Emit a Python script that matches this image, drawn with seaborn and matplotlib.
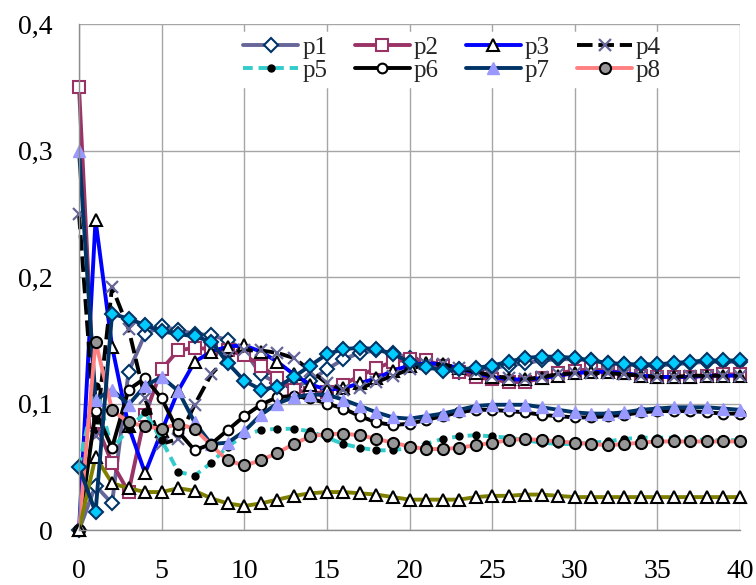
import numpy as np
import pandas as pd
import matplotlib
matplotlib.use("Agg")
import matplotlib.pyplot as plt
import seaborn as sns

x = list(range(41))

p1 = [0.000, 0.035, 0.021, 0.125, 0.155, 0.161, 0.158, 0.155, 0.154, 0.150,
      0.142, 0.123, 0.116, 0.113, 0.118, 0.127, 0.135, 0.140, 0.142, 0.140,
      0.136, 0.131, 0.127, 0.125, 0.126, 0.128, 0.130, 0.132, 0.134, 0.135,
      0.135, 0.134, 0.132, 0.131, 0.130, 0.130, 0.131, 0.132, 0.133, 0.133, 0.133]
p2 = [0.350, 0.085, 0.053, 0.030, 0.091, 0.127, 0.142, 0.144, 0.143, 0.142,
      0.138, 0.130, 0.120, 0.111, 0.108, 0.109, 0.115, 0.122, 0.128, 0.133,
      0.135, 0.134, 0.130, 0.125, 0.121, 0.119, 0.117, 0.117, 0.120, 0.124,
      0.126, 0.127, 0.126, 0.124, 0.122, 0.121, 0.121, 0.121, 0.122, 0.123, 0.123]
p3 = [0.000, 0.245, 0.145, 0.082, 0.045, 0.078, 0.110, 0.133, 0.141, 0.145,
      0.146, 0.141, 0.133, 0.123, 0.115, 0.111, 0.112, 0.116, 0.120, 0.126,
      0.130, 0.132, 0.131, 0.128, 0.124, 0.121, 0.119, 0.119, 0.120, 0.122,
      0.124, 0.125, 0.125, 0.124, 0.122, 0.121, 0.121, 0.121, 0.122, 0.122, 0.122]
p4 = [0.250, 0.074, 0.192, 0.159, 0.104, 0.068, 0.072, 0.099, 0.123, 0.137,
      0.142, 0.142, 0.140, 0.136, 0.126, 0.116, 0.111, 0.112, 0.117, 0.122,
      0.127, 0.131, 0.131, 0.128, 0.125, 0.122, 0.120, 0.119, 0.121, 0.123,
      0.124, 0.124, 0.124, 0.123, 0.122, 0.121, 0.121, 0.122, 0.122, 0.122, 0.122]
p5 = [0.050, 0.114, 0.064, 0.080, 0.093, 0.071, 0.046, 0.043, 0.053, 0.066,
      0.075, 0.079, 0.080, 0.080, 0.078, 0.073, 0.068, 0.065, 0.063, 0.063,
      0.065, 0.068, 0.072, 0.074, 0.075, 0.074, 0.073, 0.071, 0.069, 0.068,
      0.068, 0.069, 0.070, 0.072, 0.073, 0.073, 0.073, 0.072, 0.071, 0.071, 0.071]
p6 = [0.000, 0.094, 0.065, 0.111, 0.120, 0.104, 0.078, 0.063, 0.068, 0.079,
      0.090, 0.099, 0.105, 0.106, 0.104, 0.100, 0.096, 0.090, 0.085, 0.083,
      0.084, 0.087, 0.090, 0.093, 0.095, 0.095, 0.094, 0.093, 0.091, 0.090,
      0.089, 0.089, 0.090, 0.091, 0.093, 0.094, 0.094, 0.094, 0.093, 0.092, 0.092]
p7 = [0.300, 0.103, 0.111, 0.099, 0.114, 0.121, 0.110, 0.085, 0.068, 0.069,
      0.078, 0.091, 0.100, 0.105, 0.107, 0.107, 0.103, 0.098, 0.093, 0.089,
      0.088, 0.090, 0.092, 0.095, 0.098, 0.099, 0.099, 0.099, 0.097, 0.095,
      0.093, 0.092, 0.092, 0.093, 0.095, 0.096, 0.097, 0.097, 0.097, 0.096, 0.095]
p8 = [0.000, 0.149, 0.095, 0.085, 0.082, 0.080, 0.084, 0.080, 0.067, 0.055,
      0.051, 0.055, 0.061, 0.068, 0.074, 0.076, 0.076, 0.075, 0.072, 0.069,
      0.066, 0.064, 0.064, 0.065, 0.067, 0.069, 0.071, 0.072, 0.071, 0.070,
      0.069, 0.068, 0.067, 0.068, 0.069, 0.070, 0.070, 0.070, 0.070, 0.070, 0.070]
p9 = [0.000, 0.058, 0.037, 0.033, 0.030, 0.030, 0.033, 0.031, 0.025, 0.021,
      0.019, 0.021, 0.024, 0.027, 0.029, 0.030, 0.030, 0.029, 0.028, 0.026,
      0.024, 0.024, 0.024, 0.024, 0.026, 0.027, 0.027, 0.028, 0.028, 0.027,
      0.026, 0.026, 0.026, 0.026, 0.026, 0.026, 0.026, 0.026, 0.026, 0.026, 0.026]
p10 = [0.050, 0.014, 0.171, 0.167, 0.162, 0.157, 0.155, 0.153, 0.149, 0.132,
       0.118, 0.111, 0.113, 0.121, 0.130, 0.139, 0.143, 0.144, 0.143, 0.139,
       0.133, 0.129, 0.126, 0.127, 0.128, 0.130, 0.133, 0.136, 0.137, 0.137,
       0.136, 0.134, 0.132, 0.131, 0.131, 0.131, 0.132, 0.133, 0.134, 0.134, 0.134]

series_names = ["p1", "p2", "p3", "p4", "p5", "p6", "p7", "p8", "p9", "p10"]
series_vals = [p1, p2, p3, p4, p5, p6, p7, p8, p9, p10]
legend_names = ["p1", "p2", "p3", "p4", "p5", "p6", "p7", "p8"]

y_ticks = [0, 0.1, 0.2, 0.3, 0.4]
y_tick_labels = ["0", "0,1", "0,2", "0,3", "0,4"]
x_ticks = [0, 5, 10, 15, 20, 25, 30, 35, 40]

df = pd.DataFrame({
    "x": np.tile(x, len(series_names)),
    "y": np.concatenate([np.array(v) for v in series_vals]),
    "series": np.repeat(series_names, len(x)),
})

styles = {
    "p1": dict(color="#666699", marker="D", markerfacecolor="white", markeredgecolor="#003366", markersize=7, markeredgewidth=1.5, linestyle="-"),
    "p2": dict(color="#993366", marker="s", markerfacecolor="white", markeredgecolor="#993366", markersize=8, markeredgewidth=1.5, linestyle="-"),
    "p3": dict(color="#0000FF", marker="^", markerfacecolor="white", markeredgecolor="black", markersize=9, markeredgewidth=1.5, linestyle="-"),
    "p4": dict(color="black", marker="x", markerfacecolor="#666699", markeredgecolor="#666699", markersize=9, markeredgewidth=1.6, linestyle=(0, (4, 1.5))),
    "p5": dict(color="#33CCCC", marker="o", markerfacecolor="black", markeredgecolor="black", markersize=5, markeredgewidth=1, linestyle=(0, (2.5, 1.5))),
    "p6": dict(color="black", marker="o", markerfacecolor="white", markeredgecolor="black", markersize=7, markeredgewidth=1.5, linestyle="-"),
    "p7": dict(color="#003366", marker="^", markerfacecolor="#9999FF", markeredgecolor="#9999FF", markersize=9, markeredgewidth=1, linestyle="-"),
    "p8": dict(color="#FF8080", marker="o", markerfacecolor="#969696", markeredgecolor="black", markersize=8, markeredgewidth=1.5, linestyle="-"),
    "p9": dict(color="#808000", marker="^", markerfacecolor="white", markeredgecolor="black", markersize=9, markeredgewidth=1.5, linestyle="-"),
    "p10": dict(color="#003366", marker="D", markerfacecolor="#00CCFF", markeredgecolor="#003366", markersize=7, markeredgewidth=1.5, linestyle="-"),
}

sns.set_style("white")
plt.rcParams["font.family"] = ["Liberation Serif", "DejaVu Serif"]

fig = plt.figure(figsize=(7.56, 5.85), dpi=100)
ax = fig.add_axes([79 / 756, 55 / 585, 661 / 756, 506 / 585])

for name in series_names:
    sub = df[df["series"] == name]
    sns.lineplot(data=sub, x="x", y="y", ax=ax, label=name, estimator=None,
                 linewidth=2.8, **styles[name])

for line in ax.get_lines():
    line.set_clip_on(False)

ax.set_xlim(0, 40)
ax.set_ylim(0, 0.4)
ax.set_xticks(x_ticks)
ax.set_xticklabels([str(t) for t in x_ticks])
ax.set_yticks(y_ticks)
ax.set_yticklabels(y_tick_labels)
ax.set_xlabel("")
ax.set_ylabel("")
ax.grid(True, color="#a6a6a6", linewidth=1)
ax.set_axisbelow(True)
for s in ["top", "right"]:
    ax.spines[s].set_visible(False)
for s in ["left", "bottom"]:
    ax.spines[s].set_color("#8c8c8c")
    ax.spines[s].set_linewidth(1)
ax.tick_params(axis="both", direction="out", length=7, color="#8c8c8c",
               labelsize=20, labelcolor="black")
ax.tick_params(axis="y", pad=12)
ax.tick_params(axis="x", pad=14)

handles, labels = ax.get_legend_handles_labels()
hmap = dict(zip(labels, handles))
order = ["p1", "p5", "p2", "p6", "p3", "p7", "p4", "p8"]
leg = ax.legend([hmap[n] for n in order], order, loc="upper right",
                bbox_to_anchor=(0.888, 0.985), ncol=4, fontsize=18,
                numpoints=1, frameon=True, framealpha=1, edgecolor="white",
                facecolor="white", handlelength=2.2, handletextpad=0.15,
                columnspacing=1.1, labelspacing=0.02, borderpad=0.2,
                borderaxespad=0.0)

fig.savefig("out.png", dpi=100)
